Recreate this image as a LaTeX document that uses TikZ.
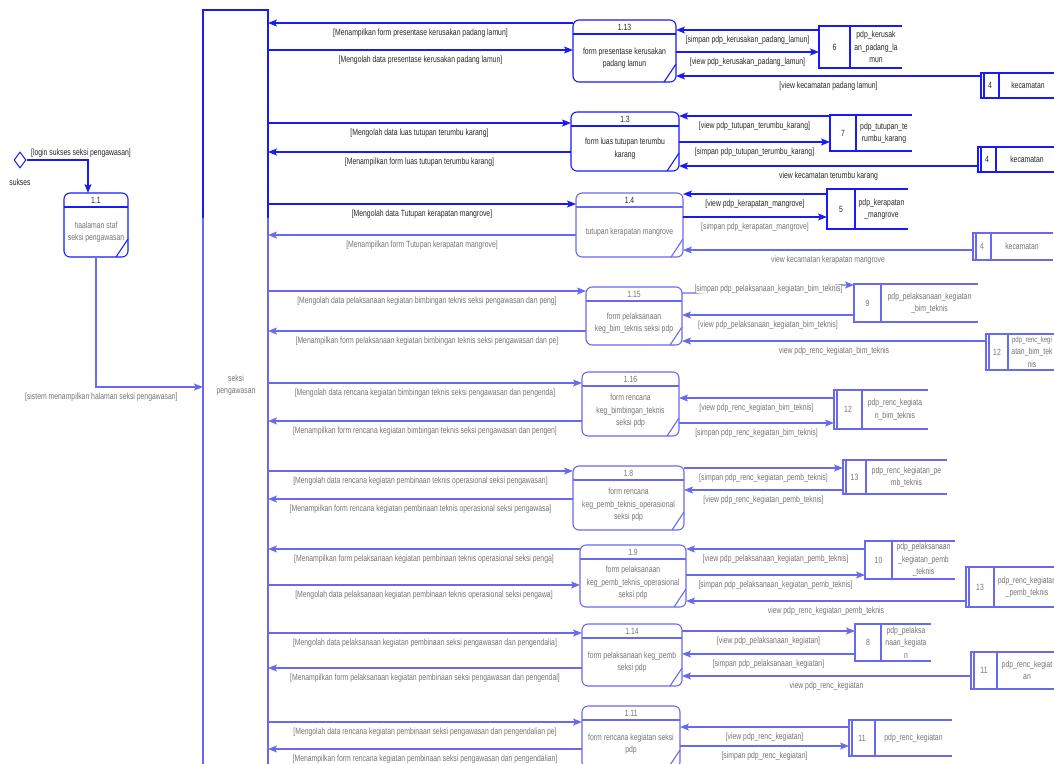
\documentclass[tikz,border=0pt]{standalone}
\usepackage{fontspec}
\setmainfont{Liberation Sans}[FakeStretch=0.76]
\usetikzlibrary{arrows.meta,shapes.geometric}
\definecolor{dfdblue}{RGB}{25,25,250}
\definecolor{dfdpale}{RGB}{105,105,240}

% process: name, left, top, right, bottom, number, text
\newcommand{\Proc}[8][dfd]{%
  \node[proc, #1, minimum width={(#5-#3)*1pt}, minimum height={(#6-#4)*1pt}] (#2) at ({(#3+#5)/2},{(#4+#6)/2}) {};
  \draw[#1] ([yshift=-14pt]#2.north west) -- ([yshift=-14pt]#2.north east);
  \draw[#1] ([xshift=-12pt]#2.south east) -- ([yshift=18pt]#2.south east);
  \node[txt, #1txt] (#2n) at ([yshift=-7pt]#2.north) {#7};
  \node[txt, #1txt] (#2t) at ([yshift=-7pt]#2.center) {#8};
}
% data store: name, left, top, right, bottom, separator, number, text
\newcommand{\Store}[9][dfd]{%
  \node[inner sep=0, outer sep=0, minimum width={(#5-#3)*1pt}, minimum height={(#6-#4)*1pt}] (#2) at ({(#3+#5)/2},{(#4+#6)/2}) {};
  \draw[#1] (#2.north east) -- (#2.north west) -- (#2.south west) -- (#2.south east);
  \draw[#1] (#2.north west -| #7,0) -- (#2.south west -| #7,0);
  \node[txt, #1txt] (#2n) at ({(#3+#7)/2},{(#4+#6)/2}) {#8};
  \node[txt, #1txt] (#2t) at ({(#7+#5)/2},{(#4+#6)/2}) {#9};
}
\newcommand{\Dbl}[2][dfd]{\draw[#1] ([xshift=3pt]#2.north west) -- ([xshift=3pt]#2.south west);}

\begin{document}
\begin{tikzpicture}[x=1pt, y=-1pt]
  \tikzset{
    dfd/.style={color=dfdblue, line width=1.1pt},
    pale/.style={color=dfdpale, line width=1.1pt},
    dfdtxt/.style={text=black!85},
    paletxt/.style={text=black!55},
    txt/.style={font=\fontsize{9}{12.5}\selectfont, align=center, inner sep=0pt},
    proc/.style={draw, rounded corners=6pt, inner sep=0pt, outer sep=0pt},
    flow/.style={-{Stealth[length=9pt,width=7pt,inset=2pt]}},
    lbl/.style={txt, midway, yshift=-10.5pt, text=black!85},
    lblp/.style={lbl, text=black!55}
  }
  \useasboundingbox (0,0) rectangle (1054,763);

  % terminator
  \node[inner sep=0, outer sep=0, minimum width=65pt, minimum height=770pt] (sp) at (235.5,395) {};
  \draw[pale] (sp.north west) rectangle (sp.south east);
  \draw[dfd] (sp.west|-0,218) -- (sp.north west) -- (sp.north east) -- (sp.east|-0,218);
  \node[txt, paletxt] (spt) at (236,385) {seksi\\pengawasan};

  % login
  \node[diamond, draw=dfdblue, line width=1pt, minimum width=12pt, minimum height=16pt, inner sep=0pt] (dm) at (20,160) {};
  \node[txt, dfdtxt] (sukses) at (20,182) {sukses};
  \Proc{p11}{64}{193}{128}{257}{1.1}{\color{black!55}haalaman staf\\\color{black!55}seksi pengawasan}
  \draw[dfd,flow] (dm.east) -| ([xshift=-8pt]p11.north);
  \node[txt, dfdtxt, anchor=west] (llogin) at (31,153) {[login sukses seksi pengawasan]};
  \draw[pale,flow] (p11.south) |- (sp.west|-0,387) node[lblp, pos=0.525] {[sistem menampilkan halaman seksi pengawasan]};

  % processes
  \Proc{p113}{573}{20}{676}{82}{1.13}{form presentase kerusakan\\padang lamun}
  \Proc{p13}{571}{112}{679}{171}{1.3}{form luas tutupan terumbu\\karang}
  \Proc[pale]{p14}{576}{193}{683}{257}{\color{black!85}1.4}{tutupan kerapatan mangrove}
  \Proc[pale]{p115}{586}{287}{682}{345}{1.15}{form pelaksanaan\\keg\_bim\_teknis seksi pdp}
  \Proc[pale]{p116}{582}{372}{679}{436}{1.16}{form rencana\\keg\_bimbingan\_teknis\\seksi pdp}
  \Proc[pale]{p18}{573}{466}{684}{530}{1.8}{form rencana\\keg\_pemb\_teknis\_operasional\\seksi pdp}
  \Proc[pale]{p19}{580}{545}{686}{607}{1.9}{form pelaksanaan\\keg\_pemb\_teknis\_operasional\\seksi pdp}
  \Proc[pale]{p114}{582}{624}{682}{686}{1.14}{form pelaksanaan keg\_pemb\\seksi pdp}
  \Proc[pale]{p111}{582}{706}{680}{768}{1.11}{form rencana kegiatan seksi\\pdp}

  % data stores
  \Store{s6}{819}{26}{902}{68}{850}{6}{pdp\_kerusak\\an\_padang\_la\\mun}
  \Store{s4a}{981}{73}{1057}{98}{999}{4}{kecamatan} \Dbl{s4a}
  \Store{s7}{830}{115}{912}{151}{856}{7}{pdp\_tutupan\_te\\rumbu\_karang}
  \Store{s4b}{978}{147}{1058}{172}{996}{4}{kecamatan} \Dbl{s4b}
  \Store{s5}{827}{189}{908}{229}{855}{5}{pdp\_kerapatan\\\_mangrove}
  \Store[pale]{s4c}{973}{233}{1053}{260}{991}{4}{kecamatan} \Dbl[pale]{s4c}
  \Store[pale]{s9}{854}{284}{978}{322}{881}{9}{pdp\_pelaksanaan\_kegiatan\\\_bim\_teknis}
  \Store[pale]{s12a}{986}{334}{1056}{370}{1008}{12}{\fontsize{8}{12}\selectfont pdp\_renc\_kegi\\atan\_bim\_tek\\nis} \Dbl[pale]{s12a}
  \Store[pale]{s12b}{834}{390}{928}{429}{862}{12}{pdp\_renc\_kegiata\\n\_bim\_teknis} \Dbl[pale]{s12b}
  \Store[pale]{s13a}{843}{460}{947}{494}{866}{13}{pdp\_renc\_kegiatan\_pe\\mb\_teknis} \Dbl[pale]{s13a}
  \Store[pale]{s10}{865}{541}{955}{579}{892}{10}{pdp\_pelaksanaan\\\_kegiatan\_pemb\\\_teknis}
  \Store[pale]{s13b}{966}{567}{1060}{607}{994}{13}{pdp\_renc\_kegiatan\\\_pemb\_teknis} \Dbl[pale]{s13b}
  \Store[pale]{s8}{855}{624}{931}{661}{881}{8}{pdp\_pelaksa\\naan\_kegiata\\n}
  \Store[pale]{s11a}{971}{652}{1057}{689}{997}{11}{pdp\_renc\_kegiat\\an} \Dbl[pale]{s11a}
  \Store[pale]{s11b}{849}{720}{952}{756}{875}{11}{pdp\_renc\_kegiatan} \Dbl[pale]{s11b}

  % 1.13
  \draw[dfd,flow] (p113.west|-0,23) -- (sp.east|-0,23) node[lbl] {[Menampilkan form presentase kerusakan padang lamun]};
  \draw[dfd,flow] (sp.east|-0,50) -- (p113.west|-0,50) node[lbl] {[Mengolah data presentase kerusakan padang lamun]};
  \draw[dfd,flow] (s6.west|-0,30) -- (p113.east|-0,30) node[lbl] {[simpan pdp\_kerusakan\_padang\_lamun]};
  \draw[dfd,flow] (p113.east|-0,52) -- (s6.west|-0,52) node[lbl] {[view pdp\_kerusakan\_padang\_lamun]};
  \draw[dfd,flow] (s4a.west|-0,76) -- (p113.east|-0,76) node[lbl] {[view kecamatan padang lamun]};

  % 1.3
  \draw[dfd,flow] (sp.east|-0,123) -- (p13.west|-0,123) node[lbl] {[Mengolah data luas tutupan terumbu karang]};
  \draw[dfd,flow] (p13.west|-0,152) -- (sp.east|-0,152) node[lbl] {[Menampilkan form luas tutupan terumbu karang]};
  \draw[dfd,flow] (s7.west|-0,116) -- (p13.east|-0,116) node[lbl] {[view pdp\_tutupan\_terumbu\_karang]};
  \draw[dfd,flow] (p13.east|-0,142) -- (s7.west|-0,142) node[lbl] {[simpan pdp\_tutupan\_terumbu\_karang]};
  \draw[dfd,flow] (s4b.west|-0,166) -- (p13.east|-0,166) node[lbl] {view kecamatan terumbu karang};

  % 1.4
  \draw[dfd,flow] (sp.east|-0,204) -- (p14.west|-0,204) node[lbl] {[Mengolah data Tutupan kerapatan mangrove]};
  \draw[pale,flow] (p14.west|-0,235) -- (sp.east|-0,235) node[lblp] {[Menampilkan form Tutupan kerapatan mangrove]};
  \draw[dfd,flow] (s5.west|-0,194) -- (p14.east|-0,194) node[lbl] {[view pdp\_kerapatan\_mangrove]};
  \draw[dfd,flow] (p14.east|-0,217) -- (s5.west|-0,217) node[lblp] {[simpan pdp\_kerapatan\_mangrove]};
  \draw[pale,flow] (s4c.west|-0,250) -- (p14.east|-0,250) node[lblp] {view kecamatan kerapatan mangrove};

  % 1.15
  \draw[pale,flow] (sp.east|-0,291) -- (p115.west|-0,291) node[lblp] {[Mengolah data pelaksanaan kegiatan bimbingan teknis seksi pengawasan dan peng]};
  \draw[pale,flow] (p115.west|-0,331) -- (sp.east|-0,331) node[lblp] {[Menampilkan form pelaksanaan kegiatan bimbingan teknis seksi pengawasan dan pe]};
  \draw[pale,flow] (p115.east|-0,293) -- (697,293) -- node[txt, text=black!55, fill=white] {[simpan pdp\_pelaksanaan\_kegiatan\_bim\_teknis]} (840,285) -- (s9.west|-0,285);
  \draw[pale,flow] (s9.west|-0,315) -- (p115.east|-0,315) node[lblp] {[view pdp\_pelaksanaan\_kegiatan\_bim\_teknis]};
  \draw[pale,flow] (s12a.west|-0,341) -- (p115.east|-0,341) node[lblp] {view pdp\_renc\_kegiatan\_bim\_teknis};

  % 1.16
  \draw[pale,flow] (sp.east|-0,383) -- (p116.west|-0,383) node[lblp] {[Mengolah data rencana kegiatan bimbingan teknis seksi pengawasan dan pengenda]};
  \draw[pale,flow] (p116.west|-0,421) -- (sp.east|-0,421) node[lblp] {[Menampilkan form rencana kegiatan bimbingan teknis seksi pengawasan dan pengen]};
  \draw[pale,flow] (s12b.west|-0,398) -- (p116.east|-0,398) node[lblp] {[view pdp\_renc\_kegiatan\_bim\_teknis]};
  \draw[pale,flow] (p116.east|-0,423) -- (s12b.west|-0,423) node[lblp] {[simpan pdp\_renc\_kegiatan\_bim\_teknis]};

  % 1.8
  \draw[pale,flow] (sp.east|-0,471) -- (p18.west|-0,471) node[lblp] {[Mengolah data rencana kegiatan pembinaan teknis operasional seksi pengawasan]};
  \draw[pale,flow] (p18.west|-0,499) -- (sp.east|-0,499) node[lblp] {[Menampilkan form rencana kegiatan pembinaan teknis operasional seksi pengawasa]};
  \draw[pale,flow] (p18.east|-0,468) -- (s13a.west|-0,468) node[lblp] {[simpan pdp\_renc\_kegiatan\_pemb\_teknis]};
  \draw[pale,flow] (s13a.west|-0,490) -- (p18.east|-0,490) node[lblp] {[view pdp\_renc\_kegiatan\_pemb\_teknis]};

  % 1.9
  \draw[pale,flow] (p19.west|-0,549) -- (sp.east|-0,549) node[lblp] {[Menampilkan form pelaksanaan kegiatan pembinaan teknis operasional seksi penga]};
  \draw[pale,flow] (sp.east|-0,585) -- (p19.west|-0,585) node[lblp] {[Mengolah data pelaksanaan kegiatan pembinaan teknis operasional seksi pengawa]};
  \draw[pale,flow] (s10.west|-0,549) -- (p19.east|-0,549) node[lblp] {[view pdp\_pelaksanaan\_kegiatan\_pemb\_teknis]};
  \draw[pale,flow] (p19.east|-0,575) -- (s10.west|-0,575) node[lblp] {[simpan pdp\_pelaksanaan\_kegiatan\_pemb\_teknis]};
  \draw[pale,flow] (s13b.west|-0,601) -- (p19.east|-0,601) node[lblp] {view pdp\_renc\_kegiatan\_pemb\_teknis};

  % 1.14
  \draw[pale,flow] (sp.east|-0,633) -- (p114.west|-0,633) node[lblp] {[Mengolah data pelaksanaan kegiatan pembinaan seksi pengawasan dan pengendalia]};
  \draw[pale,flow] (p114.west|-0,668) -- (sp.east|-0,668) node[lblp] {[Menampilkan form pelaksanaan kegiatan pembinaan seksi pengawasan dan pengendal]};
  \draw[pale,flow] (p114.east|-0,631) -- (s8.west|-0,631) node[lblp] {[view pdp\_pelaksanaan\_kegiatan]};
  \draw[pale,flow] (s8.west|-0,654) -- (p114.east|-0,654) node[lblp] {[simpan pdp\_pelaksanaan\_kegiatan]};
  \draw[pale,flow] (s11a.west|-0,676) -- (p114.east|-0,676) node[lblp] {view pdp\_renc\_kegiatan};

  % 1.11
  \draw[pale,flow] (sp.east|-0,722) -- (p111.west|-0,722) node[lblp] {[Mengolah data rencana kegiatan pembinaan seksi pengawasan dan pengendalian pe]};
  \draw[pale,flow] (p111.west|-0,749) -- (sp.east|-0,749) node[lblp] {[Menampilkan form rencana kegiatan pembinaan seksi pengawasan dan pengendalian]};
  \draw[pale,flow] (s11b.west|-0,727) -- (p111.east|-0,727) node[lblp] {[view pdp\_renc\_kegiatan]};
  \draw[pale,flow] (p111.east|-0,746) -- (s11b.west|-0,746) node[lblp] {[simpan pdp\_renc\_kegiatan]};
\end{tikzpicture}
\end{document}
